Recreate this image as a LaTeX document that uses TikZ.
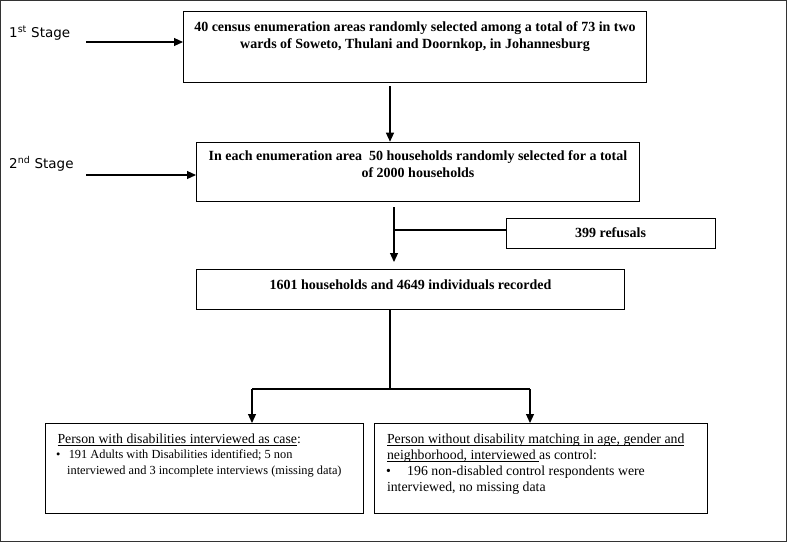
\documentclass[tikz,border=0pt]{standalone}
\usepackage{fontspec}
\setmainfont{Liberation Serif}
\newfontfamily\stagefont{DejaVu Sans}
\usetikzlibrary{arrows.meta,calc}
\newcommand{\tstrut}[1]{\rule{0pt}{#1}}
\newsavebox{\ulbox}
\newcommand{\myul}[1]{\sbox{\ulbox}{#1}\rlap{\rule[-2.2pt]{\wd\ulbox}{0.6pt}}\usebox{\ulbox}}
\newcommand{\headsize}{\fontsize{13.8}{15.5}\selectfont}
\tikzset{
  frameline/.style={draw=black!80, line width=1.4pt},
  boxnode/.style={draw=black, line width=1pt, inner sep=0pt, anchor=north west},
  conn/.style={draw=black, line width=1.1pt},
  arr/.style={conn, -{Triangle[length=9pt,width=8pt]}},
  stagelbl/.style={font=\stagefont\fontsize{13.5}{16}\selectfont, anchor=west, inner sep=0pt},
  boldtxt/.style={font=\bfseries\fontsize{14}{17}\selectfont},
  casetxt/.style={font=\fontsize{12.35}{15.5}\selectfont},
  ctrltxt/.style={font=\fontsize{13.8}{16.3}\selectfont},
}
\begin{document}
\begin{tikzpicture}[x=1pt,y=-1pt]
\useasboundingbox (0,0) rectangle (787,542);
\draw[frameline] (0.7,0.7) rectangle (786.3,541.3);

% stage labels
\node[stagelbl] (st1) at (9,33) {1\textsuperscript{st} Stage};
\node[stagelbl] (st2) at (9,164) {2\textsuperscript{nd} Stage};

% boxes
\node[boxnode, boldtxt] (b1) at (183,11)
  {\parbox[c][71pt][t]{463pt}{\centering\tstrut{19.5pt}40 census enumeration areas randomly selected among a total of 73 in two\\
   wards of Soweto, Thulani and Doornkop, in Johannesburg}};
\node[boxnode, boldtxt] (b2) at (196,141.7)
  {\parbox[c][59.3pt][t]{443pt}{\centering\tstrut{18.5pt}In each enumeration area~ 50 households randomly selected for a total\\
   of 2000 households}};
\node[draw=black, line width=1pt, inner sep=0pt, minimum width=209pt, minimum height=30pt, boldtxt] (ref) at (610.5,233) {399 refusals};
\node[boxnode, boldtxt] (b3) at (196,269)
  {\parbox[c][40pt][t]{428pt}{\centering\tstrut{19.5pt}1601 households and 4649 individuals recorded}};
\node[boxnode, casetxt] (b4) at (45,423)
  {\parbox[c][90pt][t]{318pt}{\raggedright
   \mbox{\hspace*{12pt}\tstrut{19.5pt}{\headsize\myul{Person with disabilities interviewed as case}:}}\\
   \mbox{\hspace*{10.5pt}\textbullet\hspace{8.5pt}191 Adults with Disabilities identified; 5 non}\\
   \mbox{\hspace*{21.7pt}interviewed and 3 incomplete interviews (missing data)}}};
\node[boxnode, ctrltxt] (b5) at (374,423)
  {\parbox[c][90pt][t]{333pt}{\raggedright
   \mbox{\hspace*{12.5pt}\tstrut{19.5pt}\myul{Person without disability matching in age, gender and}}\\
   \mbox{\hspace*{12.5pt}\myul{neighborhood, interviewed\ }as control:}\\
   \mbox{\hspace*{11.6pt}\textbullet\hspace{16.3pt}196 non-disabled control respondents were}\\
   \mbox{\hspace*{12.5pt}interviewed, no missing data}}};

% connectors
\coordinate (s1) at (86,42);
\coordinate (s2) at (86,175);
\draw[arr] (s1) -- (s1 -| b1.west);
\draw[arr] (s2) -- (s2 -| b2.west);

\coordinate (d1) at (390,86);
\draw[arr] (d1) -- (d1 |- b2.north);

\coordinate (d2) at (394,207);
\coordinate (d2e) at (394,262);
\draw[arr] (d2) -- (d2e);
\coordinate (j) at (394,230);
\draw[conn] (j) -- (j -| ref.west);

\coordinate (sp) at (390,389);
\coordinate (L) at (252,389);
\coordinate (R) at (530,389);
\draw[conn] (sp |- b3.south) -- (sp);
\draw[conn] (L) -- (R);
\draw[arr] (L) -- (L |- b4.north);
\draw[arr] (R) -- (R |- b5.north);
\end{tikzpicture}
\end{document}
